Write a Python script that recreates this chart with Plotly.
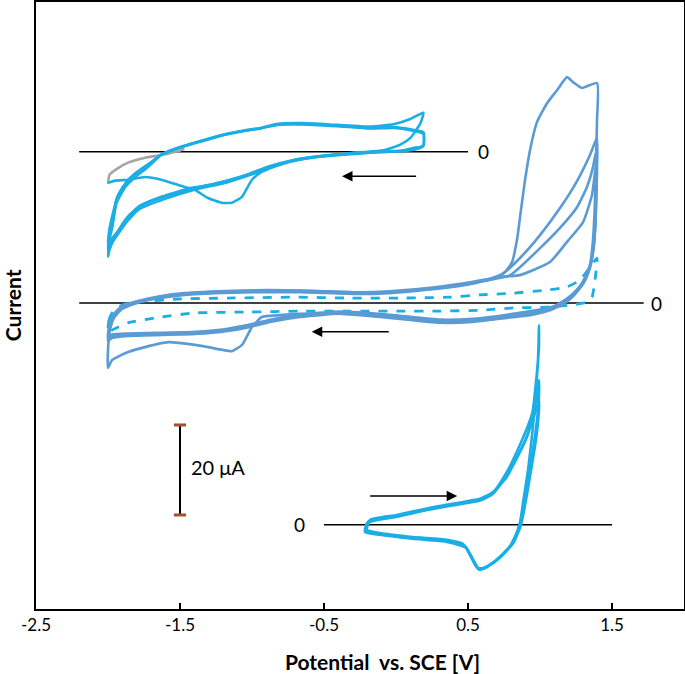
import plotly.graph_objects as go

# ---------------- axis ----------------
X_TICKS = [-2.5, -1.5, -0.5, 0.5, 1.5]
X_TICK_LABELS = ["-2.5", "-1.5", "-0.5", "0.5", "1.5"]
X_RANGE = [-2.5, 2.0]
Y_RANGE = [0, 134.9]          # current, uA (stacked curves)

# vertical offsets (uA) of the three stacked voltammograms
OFF_TOP = 101.6
OFF_MID = 68.0
OFF_BOT = 18.7

# ---------------- top voltammogram (uA vs V) ----------------
TOP_C1_V = [0.15, 0.03, -0.18, -0.39, -0.60, -0.77, -0.93, -1.00, -1.07, -1.14, -1.21, -1.31,
            -1.40, -1.47, -1.63, -1.74, -1.86, -1.95, -2.00]
TOP_C1_I = [1.1, 0.2, -0.2, -0.7, -1.3, -2.4, -4.4, -6.2, -10.0, -11.3, -11.3, -10.2,
            -8.4, -7.8, -6.2, -5.6, -6.2, -6.4, -6.9]

TOP_GRAY_V = [-2.00, -1.99, -1.93, -1.86, -1.74, -1.63, -1.51, -1.47]
TOP_GRAY_I = [-7.1, -5.1, -3.6, -2.4, -1.3, -0.7, 0.2, 0.7]

TOP_A_V = [-2.00, -1.99, -1.97, -1.94, -1.88, -1.81, -1.72, -1.63, -1.49, -1.34, -1.19, -1.06,
           -0.94, -0.83, -0.65, -0.41, -0.18, -0.01, 0.10, 0.19,
           0.17, 0.10, 0.03, -0.08, -0.25, -0.46, -0.67, -0.84, -1.00, -1.17, -1.42, -1.63,
           -1.79, -1.88, -1.95, -1.99, -2.00]
TOP_A_I = [-23.3, -19.6, -16.7, -11.3, -7.8, -5.6, -3.3, -0.7, 1.1, 2.4, 3.8, 4.7,
           5.3, 6.2, 6.4, 6.0, 5.6, 6.2, 7.3, 8.7,
           6.4, 3.1, 1.6, 0.4, -0.2, -0.7, -1.6, -2.9, -4.7, -6.7, -8.0, -10.0,
           -12.2, -15.1, -18.9, -21.8, -23.3]

TOP_B_V = [-2.00, -1.99, -1.97, -1.94, -1.88, -1.81, -1.72, -1.63, -1.49, -1.34, -1.19, -1.06,
           -0.94, -0.83, -0.65, -0.41, -0.18, -0.01, 0.10, 0.19,
           0.19, 0.15, 0.06, -0.11, -0.32, -0.53, -0.70, -0.88, -1.01, -1.19, -1.40, -1.60,
           -1.78, -1.87, -1.94, -1.99, -2.00]
TOP_B_I = [-21.8, -18.5, -15.5, -10.5, -7.2, -5.0, -2.9, -0.6, 1.0, 2.5, 3.8, 4.6,
           5.2, 6.0, 6.2, 5.8, 5.3, 5.5, 5.0, 4.4,
           1.3, 0.7, 0.2, 0.0, -0.4, -1.1, -2.0, -3.6, -5.1, -6.9, -8.4, -10.4,
           -12.7, -15.6, -18.7, -20.9, -21.8]

TOP_C_V = [-2.00, -1.99, -1.97, -1.93, -1.87, -1.80, -1.71, -1.62, -1.49, -1.34, -1.19, -1.06,
           -0.94, -0.83, -0.65, -0.41, -0.18, -0.01, 0.10, 0.19,
           0.19, 0.15, 0.05, -0.12, -0.33, -0.54, -0.71, -0.89, -1.02, -1.20, -1.41, -1.61,
           -1.77, -1.86, -1.93, -1.98, -2.00]
TOP_C_I = [-20.5, -17.2, -14.2, -9.6, -6.6, -4.5, -2.5, -0.4, 1.2, 2.6, 3.9, 4.7,
           5.3, 6.0, 6.1, 5.7, 5.2, 5.3, 4.8, 4.0,
           1.5, 0.9, 0.3, 0.1, -0.3, -1.0, -1.8, -3.3, -4.9, -6.6, -8.2, -10.0,
           -12.0, -14.6, -17.6, -19.6, -20.5]

# ---------------- middle voltammogram ----------------
MID_1_V = [-0.667, -0.806, -0.931, -1.000, -1.069, -1.139, -1.208, -1.306, -1.396, -1.583, -1.743,
           -1.861, -1.972, -2.000, -2.000, -1.986, -1.958, -1.903, -1.785, -1.639, -1.465, -1.063,
           -0.660, -0.264, -0.049, 0.271, 0.514, 0.674, 0.757, 0.806, 0.840, 0.868, 0.896, 0.931,
           0.979, 1.049, 1.118, 1.188, 1.229, 1.292, 1.396, 1.396, 1.389, 1.382, 1.368, 1.347,
           1.313, 1.243, 1.174, 1.069, 0.931, 0.771, 0.535, 0.306, -0.042, -0.389, -0.667]
MID_1_I = [-2.4, -2.7, -3.1, -5.3, -9.3, -10.7, -10.4, -9.8, -9.3, -8.7, -9.8,
           -10.9, -12.7, -14.4, -10.4, -6.0, -3.3, -1.3, 0.2, 1.1, 1.8, 2.4,
           2.7, 2.4, 2.4, 3.3, 4.4, 5.6, 6.9, 9.1, 14.0, 20.7, 27.3, 34.0,
           40.2, 44.4, 47.3, 50.2, 49.1, 47.8, 48.9, 40.7, 31.8, 22.9, 14.0, 8.4,
           5.1, 2.0, 0.0, -1.6, -2.7, -3.3, -4.2, -4.4, -3.3, -2.4, -2.4]

MID_2_V = [-2.0, -1.986, -1.958, -1.903, -1.785, -1.639, -1.465, -1.063, -0.660, -0.264, -0.049,
           0.271, 0.514, 0.722, 0.861, 1.0, 1.139, 1.257, 1.347, 1.396,
           1.396, 1.389, 1.375, 1.347, 1.299, 1.229, 1.139, 1.0, 0.771, 0.535, 0.306, -0.042,
           -0.389, -0.667, -0.875, -1.014, -1.167, -1.396, -1.625, -1.861, -1.972, -2.0]
MID_2_I = [-8.4, -5.1, -2.9, -1.1, 0.2, 1.3, 2.0, 2.4, 2.4, 2.0, 2.2,
           3.1, 4.2, 6.0, 10.0, 15.1, 21.1, 27.1, 32.9, 36.7,
           29.6, 20.7, 12.9, 7.8, 4.2, 1.6, -0.4, -1.8, -3.1, -4.0, -4.2, -3.1,
           -2.4, -3.1, -4.2, -5.3, -6.2, -6.9, -7.1, -7.3, -7.8, -8.4]

MID_3_V = [-2.0, -1.986, -1.958, -1.903, -1.785, -1.639, -1.465, -1.063, -0.660, -0.264, -0.049,
           0.271, 0.514, 0.792, 1.0, 1.139, 1.257, 1.326, 1.368, 1.389,
           1.389, 1.382, 1.361, 1.326, 1.264, 1.174, 1.069, 0.771, 0.535, 0.306, -0.042,
           -0.389, -0.667, -0.875, -1.014, -1.167, -1.396, -1.625, -1.861, -1.972, -2.0]
MID_3_I = [-7.8, -4.7, -2.6, -0.9, 0.4, 1.4, 2.1, 2.6, 2.6, 2.2, 2.4,
           3.3, 4.4, 6.2, 12.2, 16.7, 21.3, 25.8, 30.2, 33.6,
           25.1, 16.2, 10.0, 6.2, 3.1, 0.7, -1.1, -2.8, -3.7, -3.9, -2.8,
           -2.1, -2.8, -3.9, -5.0, -5.9, -6.6, -6.8, -7.0, -7.4, -7.8]

MID_4_V = [-2.0, -1.986, -1.958, -1.903, -1.785, -1.639, -1.465, -1.063, -0.660, -0.264, -0.049,
           0.271, 0.514, 0.722, 0.861, 1.069, 1.188, 1.299, 1.361, 1.389,
           1.389, 1.375, 1.347, 1.292, 1.208, 1.104, 0.771, 0.535, 0.306, -0.042,
           -0.389, -0.667, -0.875, -1.014, -1.167, -1.396, -1.625, -1.861, -1.972, -2.0]
MID_4_I = [-7.3, -4.4, -2.4, -0.7, 0.5, 1.5, 2.2, 2.8, 2.8, 2.4, 2.6,
           3.5, 4.6, 5.8, 6.2, 9.1, 13.6, 18.0, 24.0, 30.7,
           22.9, 14.0, 8.4, 4.4, 1.3, -0.7, -2.6, -3.5, -3.7, -2.6,
           -1.9, -2.6, -3.7, -4.8, -5.7, -6.4, -6.6, -6.8, -7.0, -7.3]

MID_DASH_V = [-2.0, -1.993, -1.972, -1.931, -1.861, -1.743, -1.514, -1.167, -0.701, -0.319, 0.028,
              0.375, 0.583, 0.813, 1.049, 1.188, 1.278, 1.347, 1.396,
              1.396, 1.382, 1.361, 1.326, 1.229, 1.049, 0.813, 0.583, 0.306, 0.028, -0.319,
              -0.667, -1.014, -1.396, -1.625, -1.861, -1.972, -2.0]
MID_DASH_I = [-6.7, -3.8, -2.2, -0.9, 0.0, 0.4, 0.9, 1.1, 1.3, 1.1, 1.1,
              1.3, 1.8, 2.2, 2.9, 3.6, 5.1, 8.0, 10.0,
              9.1, 5.1, 1.3, 0.2, -0.4, -0.9, -1.1, -1.6, -1.8, -1.8, -1.8,
              -1.8, -2.0, -2.2, -3.1, -4.4, -6.0, -6.7]

# ---------------- bottom voltammogram ----------------
BOT_1_V = [-0.201, -0.181, 0.007, 0.236, 0.465, 0.583, 0.674, 0.771, 0.840, 0.910, 0.951, 0.986, 0.993,
           0.993, 0.979, 0.951, 0.917, 0.882, 0.861, 0.813, 0.722, 0.632, 0.583, 0.549, 0.514,
           0.465, 0.354, 0.118, -0.111, -0.201]
BOT_1_I = [-1.1, 1.1, 2.2, 3.8, 5.1, 5.8, 7.3, 10.7, 15.1, 19.6, 25.6, 36.7, 44.4,
           40.0, 32.9, 21.8, 12.2, 4.9, 0.4, -4.0, -7.1, -9.3, -10.0, -8.9, -6.7,
           -4.2, -3.3, -2.7, -1.8, -1.1]

BOT_2_V = [-0.208, -0.194, 0.007, 0.236, 0.465, 0.583, 0.674, 0.771, 0.861, 0.931, 0.979, 0.993,
           0.993, 0.979, 0.951, 0.917, 0.882, 0.847, 0.792, 0.701, 0.618, 0.569, 0.528, 0.479,
           0.354, 0.118, -0.111, -0.208]
BOT_2_I = [-1.3, 0.7, 2.0, 3.6, 4.9, 5.6, 7.1, 11.8, 17.8, 23.3, 28.4, 32.2,
           28.9, 23.3, 16.7, 10.0, 3.3, -1.1, -4.7, -7.8, -9.6, -9.6, -7.3, -4.7,
           -3.6, -2.9, -2.0, -1.3]

BOT_3_V = [-0.215, -0.201, 0.007, 0.236, 0.465, 0.583, 0.674, 0.792, 0.875, 0.951, 0.993,
           0.993, 0.972, 0.938, 0.903, 0.868, 0.819, 0.722, 0.639, 0.576, 0.535, 0.486,
           0.354, 0.118, -0.111, -0.215]
BOT_3_I = [-1.6, 0.4, 1.8, 3.4, 4.7, 5.4, 6.9, 12.2, 17.1, 23.3, 27.8,
           25.6, 18.9, 12.2, 5.6, 0.0, -3.8, -7.3, -9.1, -9.8, -7.8, -5.1,
           -3.8, -3.1, -2.2, -1.6]

# zero reference lines (V extents)
ZERO_TOP = [-2.2, 0.5]
ZERO_MID = [-2.2, 1.72]
ZERO_BOT = [-0.5, 1.5]

# scan-direction arrows (tail V, head V, current uA relative to offsets)
ARROW_TOP = (0.15, -0.375, -5.4)
ARROW_MID = (-0.04, -0.585, -6.4)
ARROW_BOT = (-0.19, 0.425, 6.4)

SCALE_BAR_V = -1.5
SCALE_BAR_UA = 20.0
SCALE_BAR_BOTTOM = 20.9

BRIGHT = "#1BAEE6"
STEEL = "#5B9BD5"
GRAY = "#A5A5A5"
FONT = "Lato"

fig = go.Figure()


def add_curve(v, i, off, color, dash="solid", width=2.6):
    fig.add_trace(go.Scatter(
        x=v, y=[off + c for c in i], mode="lines",
        line=dict(color=color, width=width, dash=dash, shape="spline", smoothing=0.5),
        hoverinfo="skip"))


# zero lines
for (a, b), off in [(ZERO_TOP, OFF_TOP), (ZERO_MID, OFF_MID), (ZERO_BOT, OFF_BOT)]:
    fig.add_trace(go.Scatter(x=[a, b], y=[off, off], mode="lines",
                             line=dict(color="black", width=1.5), hoverinfo="skip"))

# top
add_curve(TOP_GRAY_V, TOP_GRAY_I, OFF_TOP, GRAY)
add_curve(TOP_C1_V, TOP_C1_I, OFF_TOP, BRIGHT)
add_curve(TOP_A_V, TOP_A_I, OFF_TOP, BRIGHT)
add_curve(TOP_B_V, TOP_B_I, OFF_TOP, BRIGHT)
add_curve(TOP_C_V, TOP_C_I, OFF_TOP, BRIGHT)

# middle
add_curve(MID_DASH_V, MID_DASH_I, OFF_MID, BRIGHT, dash="dash", width=2.8)
add_curve(MID_1_V, MID_1_I, OFF_MID, STEEL)
add_curve(MID_2_V, MID_2_I, OFF_MID, STEEL)
add_curve(MID_3_V, MID_3_I, OFF_MID, STEEL)
add_curve(MID_4_V, MID_4_I, OFF_MID, STEEL)

# bottom
add_curve(BOT_1_V, BOT_1_I, OFF_BOT, BRIGHT)
add_curve(BOT_2_V, BOT_2_I, OFF_BOT, BRIGHT)
add_curve(BOT_3_V, BOT_3_I, OFF_BOT, BRIGHT)

# scale bar
sb_top = SCALE_BAR_BOTTOM + SCALE_BAR_UA
fig.add_trace(go.Scatter(x=[SCALE_BAR_V, SCALE_BAR_V], y=[SCALE_BAR_BOTTOM, sb_top], mode="lines",
                         line=dict(color="black", width=2), hoverinfo="skip"))
for yy in (SCALE_BAR_BOTTOM, sb_top):
    fig.add_trace(go.Scatter(x=[SCALE_BAR_V - 0.042, SCALE_BAR_V + 0.042], y=[yy, yy], mode="lines",
                             line=dict(color="#A0522D", width=3), hoverinfo="skip"))

annotations = []
# "0" labels
for xv, off in [(0.61, OFF_TOP), (1.81, OFF_MID), (-0.67, OFF_BOT)]:
    annotations.append(dict(x=xv, y=off, xref="x", yref="y", text="0", showarrow=False,
                            xanchor="center", yanchor="middle",
                            font=dict(family=FONT, size=19, color="black")))
annotations.append(dict(x=-1.44, y=SCALE_BAR_BOTTOM + SCALE_BAR_UA / 2 + 0.6, xref="x", yref="y",
                        text="20 μA", showarrow=False, xanchor="left", yanchor="middle",
                        font=dict(family=FONT, size=20, color="black")))
# arrows
for (t, h, c), off in [(ARROW_TOP, OFF_TOP), (ARROW_MID, OFF_MID), (ARROW_BOT, OFF_BOT)]:
    annotations.append(dict(x=h, y=off + c, ax=t, ay=off + c, xref="x", yref="y",
                            axref="x", ayref="y", text="", showarrow=True,
                            arrowhead=2, arrowsize=1.4, arrowwidth=1.5, arrowcolor="black"))
# axis titles
annotations.append(dict(x=0.535, y=-0.086, xref="paper", yref="paper",
                        xanchor="center", yanchor="middle",
                        text="<b>Potential  vs. SCE [V]</b>", showarrow=False,
                        font=dict(family=FONT, size=21, color="black")))
annotations.append(dict(x=-0.036, y=0.5, xref="paper", yref="paper", textangle=-90,
                        xanchor="center", yanchor="middle",
                        text="<b>Current</b>", showarrow=False,
                        font=dict(family=FONT, size=21, color="black")))

fig.update_layout(
    width=685, height=674,
    margin=dict(l=36, r=1, t=2, b=65),
    plot_bgcolor="white", paper_bgcolor="white",
    showlegend=False,
    annotations=annotations,
    xaxis=dict(range=X_RANGE, tickvals=X_TICKS, ticktext=X_TICK_LABELS,
               ticks="inside", ticklen=6, tickwidth=2, tickcolor="black",
               showline=True, linewidth=2, linecolor="black", mirror=True,
               showgrid=False, zeroline=False, automargin=False,
               tickfont=dict(family=FONT, size=17, color="black")),
    yaxis=dict(range=Y_RANGE, showline=True, linewidth=2, linecolor="black", mirror=True,
               showticklabels=False, ticks="", showgrid=False, zeroline=False, automargin=False),
)

fig.write_html("out.html", config={"displayModeBar": False},
               post_script="document.body.style.margin='0';document.body.style.overflow='hidden';")
